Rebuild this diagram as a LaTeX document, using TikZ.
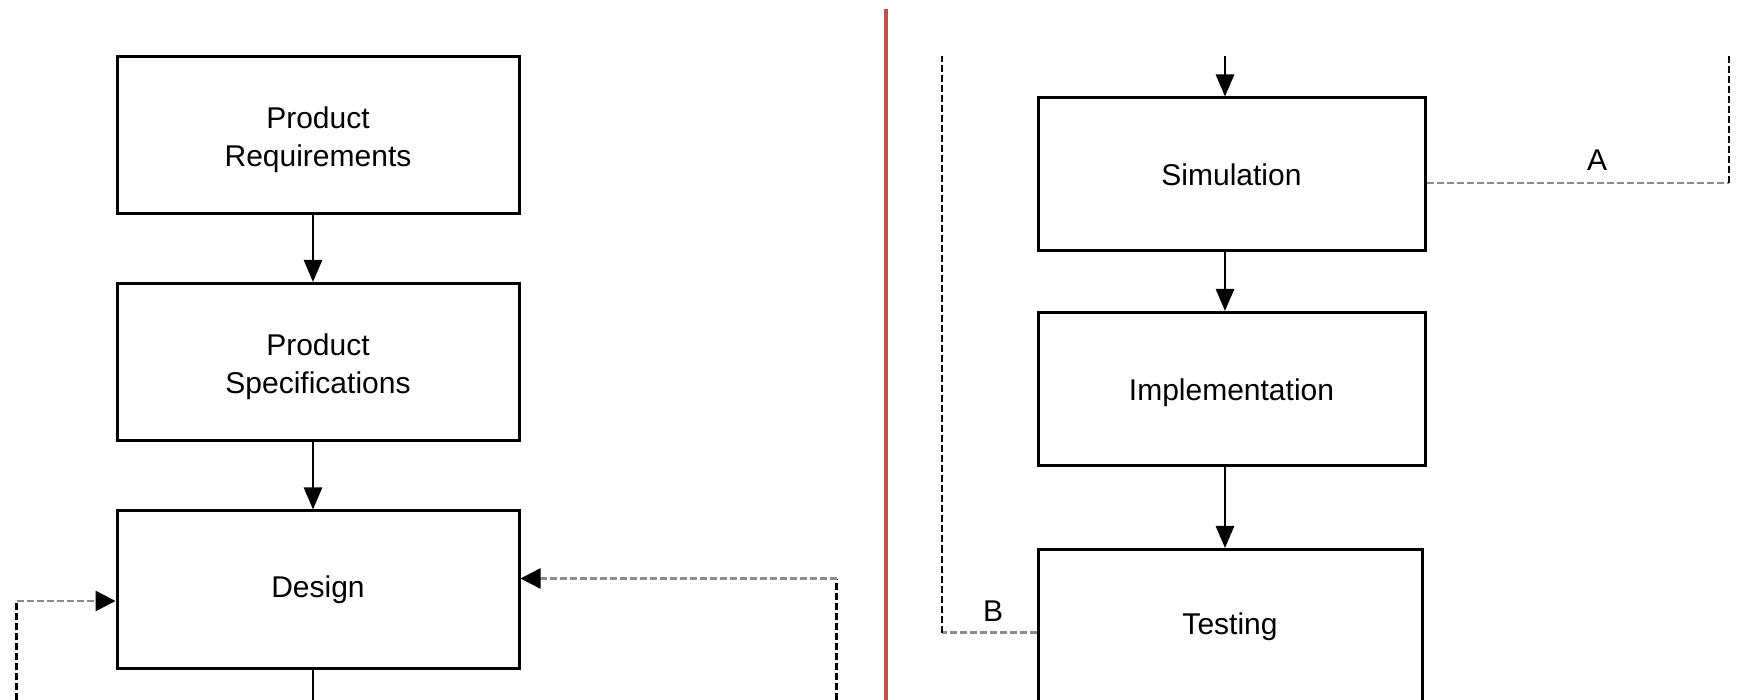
\documentclass[tikz,border=0pt]{standalone}
\usepackage{fontspec}
\setmainfont{Liberation Sans}
\usetikzlibrary{arrows.meta}
\definecolor{redline}{HTML}{C0504D}
\definecolor{dashgray}{HTML}{8C8C8C}
\begin{document}
\begin{tikzpicture}[x=0.5pt,y=-0.5pt,
  txt/.style={font=\fontsize{15}{18.8}\selectfont},
  lbox/.style={draw,line width=1.5pt,minimum width=201pt,minimum height=78.5pt,align=center,inner sep=0pt,txt},
  rbox/.style={draw,line width=1.5pt,minimum width=193.5pt,minimum height=76.5pt,align=center,inner sep=0pt,txt},
  arr/.style={line width=1.4pt,-{Triangle[length=11pt,width=9pt]}},
  plain/.style={line width=1.4pt},
  vdash/.style={line width=1.2pt,black,dash pattern=on 3.5pt off 1.5pt},
  hdash/.style={line width=1.3pt,dashgray,dash pattern=on 3.5pt off 1.5pt},
  harr/.style={hdash,-{Triangle[length=10pt,width=10pt,color=black,fill=black]}},
  lower/.style={text height=1.5ex,yshift=-2pt},
  lab/.style={txt,inner sep=0pt}]
\useasboundingbox (0,0) rectangle (1737,700);
\clip (0,0) rectangle (1737,700);
\fill[white] (0,0) rectangle (1737,700);
% left column
\node[lbox] (PR) at (318,135) {};
\node[txt,align=center] (PRt) at (318,139.5) {Product\\Requirements};
\node[lbox] (PS) at (318,362) {};
\node[txt,align=center] (PSt) at (318,366.5) {Product\\Specifications};
\node[lbox] (D) at (318,589.5) {Design};
\coordinate (dl) at (313,0);
\coordinate (dend) at (313,720);
\draw[arr] (PR.south -| dl) -- (PS.north -| dl);
\draw[arr] (PS.south -| dl) -- (D.north -| dl);
\draw[plain] (D.south -| dl) -- (dend);
% left dashed feedback
\coordinate (lb) at (16.5,601);
\coordinate (lbot) at (16.5,720);
\draw[vdash] (lbot) -- (lb);
\draw[harr] (lb) -- (lb -| D.west);
% right dashed feedback
\coordinate (rb) at (836.5,578.5);
\coordinate (rbot) at (836.5,720);
\draw[vdash] (rbot) -- (rb);
\draw[harr] (rb) -- (rb -| D.east);
% separator
\coordinate (sepT) at (885.5,9);
\coordinate (sepB) at (885.5,720);
\draw[redline,line width=2pt] (sepT) -- (sepB);
% right column
\node[rbox] (S) at (1231.5,174.5) {Simulation};
\node[rbox] (I) at (1231.5,389) {};
\node[txt] (It) at (1231.5,393) {Implementation};
\node[rbox,minimum width=192pt,minimum height=77pt] (T) at (1230,626.5) {Testing};
\coordinate (top) at (1225,56);
\draw[arr] (top) -- (top |- S.north);
\draw[arr] (S.south -| top) -- (I.north -| top);
\draw[arr] (I.south -| top) -- (T.north -| top);
% A
\coordinate (ab) at (1729,183);
\coordinate (atop) at (1729,56);
\draw[hdash] (ab -| S.east) -- (ab);
\draw[vdash] (ab) -- (atop);
\node[lab] (A) at (1597,160) {A};
% B
\coordinate (bb) at (942,632.5);
\coordinate (btop) at (942,56);
\draw[hdash] (bb -| T.west) -- (bb);
\draw[vdash] (bb) -- (btop);
\node[lab] (B) at (993,611) {B};
\end{tikzpicture}
\end{document}
